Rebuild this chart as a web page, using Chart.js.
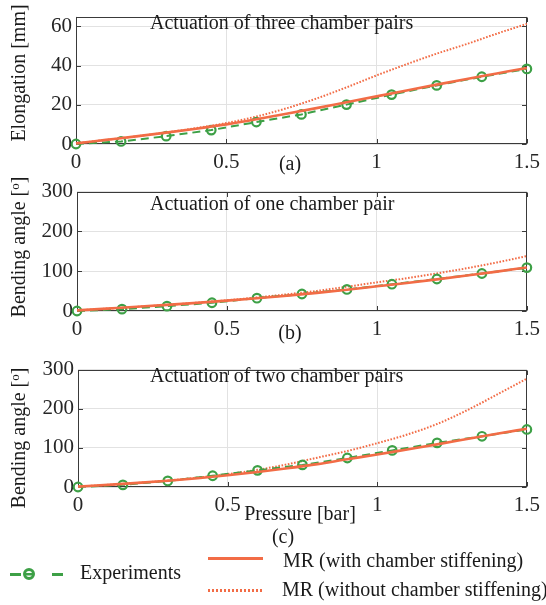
<!DOCTYPE html>
<html lang="en">
<head>
<meta charset="UTF-8">
<title>Elongation and bending vs pressure</title>
<script src="https://cdn.jsdelivr.net/npm/chart.js@4.4.1/dist/chart.umd.min.js"></script>
<style>
  body { margin: 0; background: #fff; }
  #fig { position: relative; width: 546px; height: 605px; overflow: hidden;
         font-family: 'Liberation Serif', 'Times New Roman', serif; color: #1a1a1a; }
  #fig canvas { position: absolute; left: 0; }
  .txt { position: absolute; white-space: nowrap; font-size: 20px; line-height: 1; }
  .ylab { transform: translate(-50%, -50%) rotate(-90deg); }
  .ctr { transform: translate(-50%, -50%); }
  .lft { transform: translateY(-50%); }
  .ylab sup { font-size: 13px; vertical-align: 6px; line-height: 0; }
  .key { position: absolute; }
</style>
</head>
<body>
<div id="fig">
  <canvas id="panelA" width="546" height="175" style="top:0px"></canvas>
  <canvas id="panelB" width="546" height="167" style="top:175px"></canvas>
  <canvas id="panelC" width="546" height="161" style="top:353px"></canvas>

  <div class="txt ylab" style="left:18px; top:73px">Elongation [mm]</div>
  <div class="txt ylab" style="left:18px; top:247px">Bending angle [<sup>o</sup>]</div>
  <div class="txt ylab" style="left:18px; top:438px">Bending angle [<sup>o</sup>]</div>

  <div class="txt lft" style="left:150px; top:22px">Actuation of three chamber pairs</div>
  <div class="txt lft" style="left:150px; top:203px">Actuation of one chamber pair</div>
  <div class="txt lft" style="left:150px; top:375px">Actuation of two chamber pairs</div>

  <div class="txt ctr" style="left:290px; top:163px">(a)</div>
  <div class="txt ctr" style="left:290px; top:332px">(b)</div>
  <div class="txt ctr" style="left:300px; top:513px">Pressure [bar]</div>
  <div class="txt ctr" style="left:283px; top:536px">(c)</div>

  <!-- legend -->
  <div class="key" style="left:10px; top:573px; width:11px; height:2.5px; background:#3da046"></div>
  <div class="key" style="left:52px; top:573px; width:11px; height:2.5px; background:#3da046"></div>
  <div class="key" style="left:23px; top:568px; width:12px; height:12px; box-sizing:border-box;
       border:3px solid #3da046; border-radius:50%; background:linear-gradient(#3da046,#3da046) center/100% 2.5px no-repeat"></div>
  <div class="txt lft" style="left:80px; top:572px">Experiments</div>

  <div class="key" style="left:208px; top:556.5px; width:55px; height:3px; background:#f26c46"></div>
  <div class="txt lft" style="left:283px; top:560px">MR (with chamber stiffening)</div>

  <div class="key" style="left:208px; top:589px; width:55px; height:2.5px;
       background:repeating-linear-gradient(90deg,#f26c46 0 2px,transparent 2px 4px)"></div>
  <div class="txt lft" style="left:282px; top:589px">MR (without chamber stiffening)</div>
</div>

<script>
// pressure [bar] of the measured points and of the model curves
var pExp = [0, 0.15, 0.3, 0.45, 0.6, 0.75, 0.9, 1.05, 1.2, 1.35, 1.5];
var pModel = [0, 0.1, 0.2, 0.3, 0.4, 0.5, 0.6, 0.7, 0.8, 0.9, 1.0, 1.1, 1.2, 1.3, 1.4, 1.5];

// (a) three chamber pairs: elongation [mm]
var expThree = [0, 1.3, 4.0, 7.1, 11.2, 15.1, 20.1, 25.2, 29.9, 34.3, 38.3];
var mrThree = [0.3, 2.1, 3.9, 5.8, 7.8, 10.0, 12.6, 15.4, 18.3, 21.3, 24.3, 27.3, 30.3, 33.2, 36.0, 38.8];
var mrThreeNoStiff = [0.3, 2.1, 3.9, 5.9, 8.1, 10.7, 14.0, 18.2, 23.2, 28.9, 35.0, 40.7, 46.1, 51.0, 56.3, 61.3];

// (b) one chamber pair: bending angle [deg]
var expOne = [0, 4.6, 12.2, 20.7, 32.2, 42.7, 54.2, 67.3, 80.4, 94.2, 109];
var mrOne = [1.5, 6, 10.5, 15.3, 20.5, 26, 32, 38.5, 45.5, 53.5, 62, 70.5, 79.5, 89, 99, 109.5];
var mrOneNoStiff = [1.5, 6, 10.5, 15.3, 20.8, 27, 34, 42, 50.5, 61, 72, 82.5, 94.5, 107.5, 122, 138];

// (c) two chamber pairs: bending angle [deg]
var expTwo = [0, 5.5, 15.5, 28.7, 42.6, 56.5, 74.1, 93.5, 112.7, 129.6, 147];
var mrTwo = [1, 5.5, 10.5, 16, 22.5, 30, 38.5, 48, 58.5, 71, 83, 96, 109, 122.5, 136, 149];
var mrTwoNoStiff = [1, 5.5, 10.5, 16.5, 24, 33, 44, 58, 75, 92, 112, 134, 161, 196, 236, 277];

// axis ticks
var xTicks = [0, 0.5, 1, 1.5];
var yTicksMm = [0, 20, 40, 60];
var yTicksDeg = [0, 100, 200, 300];

var GREEN = '#3da046';
var ORANGE = '#f26c46';
var tickFont = { family: "'Liberation Serif', 'Times New Roman', serif", size: 21 };

function pairs(xs, ys) {
    return xs.map(function (x, i) { return { x: x, y: ys[i] }; });
}

// box around the axes with short inward tick marks
var axesBox = {
    id: 'axesBox',
    beforeDatasetsDraw: function (chart) {
        var ctx = chart.ctx, a = chart.chartArea;
        var L = Math.round(a.left) + 0.5, R = Math.round(a.right) - 0.5;
        var T = Math.round(a.top) + 0.5, B = Math.round(a.bottom) - 0.5;
        ctx.save();
        ctx.strokeStyle = '#3a3a3a';
        ctx.lineWidth = 1;
        ctx.beginPath();
        chart.scales.x.ticks.forEach(function (t) {
            var px = Math.round(chart.scales.x.getPixelForValue(t.value)) + 0.5;
            ctx.moveTo(px, B); ctx.lineTo(px, B - 4.5);
            ctx.moveTo(px, T); ctx.lineTo(px, T + 4.5);
        });
        chart.scales.y.ticks.forEach(function (t) {
            var py = Math.round(chart.scales.y.getPixelForValue(t.value)) + 0.5;
            ctx.moveTo(L, py); ctx.lineTo(L + 4.5, py);
            ctx.moveTo(R, py); ctx.lineTo(R - 4.5, py);
        });
        ctx.stroke();
        ctx.strokeRect(L, T, R - L, B - T);
        ctx.restore();
    }
};

function makePanel(id, exp, mr, mrNoStiff, yMax, yTicks, plotLeft, plotRight, xAxisHeight) {
    var ctx = document.getElementById(id).getContext('2d');
    return new Chart(ctx, {
        type: 'line',
        data: {
            datasets: [{
                label: 'MR (with chamber stiffening)',
                data: pairs(pModel, mr),
                borderColor: ORANGE,
                borderWidth: 2.6,
                pointRadius: 0,
                cubicInterpolationMode: 'monotone',
                clip: false
            }, {
                label: 'Experiments',
                data: pairs(pExp, exp),
                borderColor: GREEN,
                borderWidth: 2,
                borderDash: [8, 5],
                pointRadius: 4.3,
                pointBorderWidth: 2.2,
                pointBorderColor: GREEN,
                pointBackgroundColor: 'rgba(0,0,0,0)',
                clip: false
            }, {
                label: 'MR (without chamber stiffening)',
                data: pairs(pModel, mrNoStiff),
                borderColor: ORANGE,
                borderWidth: 2,
                borderDash: [1.6, 1.6],
                pointRadius: 0,
                cubicInterpolationMode: 'monotone',
                clip: false
            }]
        },
        options: {
            responsive: false,
            animation: false,
            devicePixelRatio: 1,
            layout: { padding: { top: 6, right: 546 - plotRight, bottom: 0, left: 0 } },
            plugins: { legend: { display: false }, tooltip: { enabled: false } },
            scales: {
                x: {
                    type: 'linear',
                    min: 0,
                    max: 1.5,
                    afterBuildTicks: function (s) { s.ticks = xTicks.map(function (v) { return { value: v }; }); },
                    afterFit: function (s) { s.height = xAxisHeight; },
                    grid: { color: '#e2e2e2', drawTicks: false },
                    border: { display: false },
                    ticks: {
                        padding: 6, color: '#262626', font: tickFont, maxRotation: 0, autoSkip: false,
                        callback: function (v) { return String(v); }
                    }
                },
                y: {
                    min: 0,
                    max: yMax,
                    afterBuildTicks: function (s) { s.ticks = yTicks.map(function (v) { return { value: v }; }); },
                    afterFit: function (s) { s.width = plotLeft; },
                    grid: { color: '#e2e2e2', drawTicks: false },
                    border: { display: false },
                    ticks: {
                        padding: 4, color: '#262626', font: tickFont,
                        callback: function (v) { return String(v); }
                    }
                }
            }
        },
        plugins: [axesBox]
    });
}

makePanel('panelA', expThree, mrThree, mrThreeNoStiff, 65, yTicksMm, 76, 528, 31);
makePanel('panelB', expOne, mrOne, mrOneNoStiff, 300, yTicksDeg, 77, 529, 31);
makePanel('panelC', expTwo, mrTwo, mrTwoNoStiff, 300, yTicksDeg, 78, 530, 27);
</script>
</body>
</html>
